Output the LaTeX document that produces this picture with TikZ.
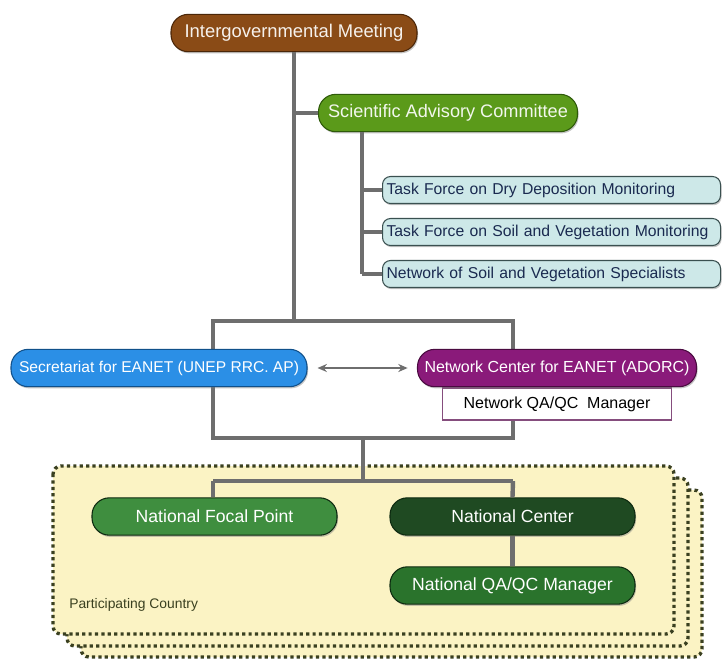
\documentclass[tikz,border=0pt]{standalone}
\usepackage{fontspec}
\setmainfont{Liberation Sans}
\usetikzlibrary{shadows,arrows.meta}
\definecolor{cIGM}{HTML}{8A4B16}
\definecolor{cIGMd}{HTML}{4A2608}
\definecolor{cSAC}{HTML}{5B9A1A}
\definecolor{cSACd}{HTML}{2E5A0A}
\definecolor{cTask}{HTML}{CDE8E8}
\definecolor{cTaskd}{HTML}{3A5050}
\definecolor{cTaskt}{HTML}{1A2A50}
\definecolor{cSec}{HTML}{2B8FE6}
\definecolor{cSecd}{HTML}{10508A}
\definecolor{cNC}{HTML}{8A1A7A}
\definecolor{cNCd}{HTML}{4A0A40}
\definecolor{cNFP}{HTML}{3F8E3F}
\definecolor{cNatC}{HTML}{1F4A22}
\definecolor{cNQA}{HTML}{2A732C}
\definecolor{cGd}{HTML}{0E2A10}
\definecolor{cYel}{HTML}{FBF3C4}
\definecolor{cDot}{HTML}{3A4020}
\definecolor{cLine}{HTML}{6E6E6E}
\tikzset{
  pill/.style={rectangle, rounded corners=13pt, inner sep=0pt, line width=0.8pt,
    minimum height=28pt, text=white,
    drop shadow={shadow xshift=0.8pt,shadow yshift=-1.3pt,opacity=0.45}},
  taskbox/.style={rectangle, rounded corners=6pt, fill=cTask, draw=cTaskd, line width=0.8pt,
    minimum height=20.25pt, text width=247.5pt, inner xsep=3pt, inner ysep=0pt, align=left,
    text=cTaskt, font=\fontsize{11.8}{14}\selectfont, anchor=west,
    drop shadow={shadow xshift=0.8pt,shadow yshift=-1.3pt,opacity=0.45}},
  conn/.style={draw=cLine, line width=3.3pt},
  country/.style={fill=cYel, draw=cDot, line width=2.5pt, dash pattern=on 2.4pt off 2.4pt, rounded corners=6pt}
}
\begin{document}
\begin{tikzpicture}[x=0.75pt,y=-0.75pt]
\useasboundingbox (0,0) rectangle (724,662);
\fill[white] (0,0) rectangle (724,662);

% participating country stacked boxes
\draw[country] (81,490) rectangle (702,657);
\draw[country] (67,478) rectangle (688,646);
\draw[country] (53,466) rectangle (674,634);
\node[anchor=west, text=cDot, font=\fontsize{10.4}{12}\selectfont, inner sep=0pt] (pc) at (69,605) {Participating Country};

% coordinates for connector frame
\coordinate (rTL) at (213,321);
\coordinate (rTR) at (513,321);
\coordinate (rBL) at (213,438);
\coordinate (rBR) at (513,438);
\coordinate (rB) at (363,438);
\coordinate (hB) at (363,481);
\coordinate (hL) at (213,481);
\coordinate (hR) at (513,481);
\coordinate (s0) at (362,132);
\coordinate (s1) at (362,274);

% nodes
\node[pill, fill=cIGM, draw=cIGMd, minimum width=184.5pt, text=cIGM!8!white,
  font=\fontsize{13.8}{16}\selectfont] (igm) at (294,33) {Intergovernmental Meeting};
\node[pill, fill=cSAC, draw=cSACd, minimum width=194.25pt, text=cSAC!8!white,
  font=\fontsize{13.6}{16}\selectfont] (sac) at (448,113) {Scientific Advisory Committee};

% connectors (top part)
\draw[conn] (igm.south) -- (igm.south |- rTL);
\draw[conn] (igm.south |- sac.west) -- (sac.west);
\draw[conn] (s0) -- (s1);

\node[taskbox] (t1) at (382,190) {Task Force on Dry Deposition Monitoring};
\node[taskbox] (t2) at (382,232) {Task Force on Soil and Vegetation Monitoring};
\node[taskbox] (t3) at (382,274) {Network of Soil and Vegetation Specialists};
\draw[conn] (s0 |- t1.west) -- (t1.west);
\draw[conn] (s0 |- t2.west) -- (t2.west);
\draw[conn] (s1) -- (t3.west);

% frame
\draw[conn, line join=miter] (rBL) -- (rTL) -- (rTR) -- (rBR) -- cycle;
\draw[conn] (rB) -- (hB);
\draw[conn, line join=miter] (hL) -- (hR);

\node[rectangle, fill=white, draw=cNC!50!gray, line width=0.8pt, minimum width=171.75pt,
  minimum height=24pt, inner sep=0pt, font=\fontsize{12}{14}\selectfont] (nqa) at (557,404) {Network QA/QC\ \ Manager};
\node[pill, fill=cSec, draw=cSecd, minimum width=222pt,
  font=\fontsize{11.7}{14}\selectfont] (sec) at (159,368) {Secretariat for EANET (UNEP RRC. AP)};
\node[pill, fill=cNC, draw=cNCd, minimum width=209.25pt,
  font=\fontsize{12}{14}\selectfont] (nc) at (557,368) {Network Center for EANET (ADORC)};

\coordinate (a1) at ([xshift=7.5pt]sec.east);
\coordinate (a2) at ([xshift=-7pt]nc.west);
\draw[draw=cLine, line width=1.8pt, {Stealth[length=7pt,width=6pt]}-{Stealth[length=7pt,width=6pt]}] (a1) -- (a2);

% national level
\node[pill, fill=cNFP, draw=cGd, minimum width=183.75pt,
  font=\fontsize{13.2}{15}\selectfont] (nfp) at (214.5,516.5) {National Focal Point};
\node[pill, fill=cNatC, draw=cGd, minimum width=183.75pt,
  font=\fontsize{13.2}{15}\selectfont] (natc) at (512.5,516.5) {National Center};
\node[pill, fill=cNQA, draw=cGd, minimum width=183.75pt,
  font=\fontsize{13.2}{15}\selectfont] (natqa) at (512.5,585.5) {National QA/QC Manager};

\draw[conn] (hL) -- (hL |- nfp.north);
\draw[conn] (hR) -- (natc.north);
\draw[conn] (natc.south) -- (natqa.north);
\end{tikzpicture}
\end{document}
